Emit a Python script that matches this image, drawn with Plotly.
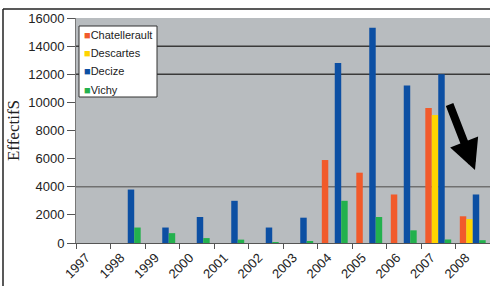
import plotly.graph_objects as go

years = ["1997", "1998", "1999", "2000", "2001", "2002", "2003", "2004", "2005", "2006", "2007", "2008"]
chatellerault = [None, None, None, None, None, None, None, 5900, 5000, 3450, 9600, 1900]
descartes = [None, None, None, None, None, None, None, None, None, None, 9100, 1700]
decize = [None, 3800, 1100, 1850, 3000, 1100, 1800, 12800, 15300, 11200, 12000, 3450]
vichy = [None, 1100, 700, 350, 240, 50, 120, 3000, 1850, 900, 250, 200]
series_names = ["Chatellerault", "Descartes", "Decize", "Vichy"]
colors = ["#f15a2b", "#ffd400", "#0c4fa3", "#23b14d"]
y_ticks = [0, 2000, 4000, 6000, 8000, 10000, 12000, 14000, 16000]
grid_values = [4000, 12000, 14000]

W, H = 490, 286
L, R, T, B = 76, 0, 18, 43
PW, PH = W - L - R, H - T - B


def px(x):
    return (x - L) / PW


def py(y):
    return (H - B - y) / PH


fig = go.Figure()
for name, vals, col in zip(series_names, [chatellerault, descartes, decize, vichy], colors):
    fig.add_trace(go.Bar(x=years, y=vals, name=name, marker=dict(color=col, line=dict(width=0)),
                         showlegend=False))

for g in grid_values:
    fig.add_shape(type="line", xref="paper", yref="y", x0=0, x1=1, y0=g, y1=g,
                  line=dict(color="#3a3a3a" if g > 4000 else "#707070", width=1.5), layer="below")

# outer frame
fig.add_shape(type="line", xref="paper", yref="paper", x0=px(3), x1=px(492), y0=py(9), y1=py(9),
              line=dict(color="#222", width=1.5))
fig.add_shape(type="line", xref="paper", yref="paper", x0=px(3), x1=px(3), y0=py(9), y1=py(290),
              line=dict(color="#222", width=1.5))

# legend box
fig.add_shape(type="rect", xref="paper", yref="paper", x0=px(79), x1=px(157), y0=py(26), y1=py(97),
              fillcolor="white", line=dict(color="#333", width=1))
for i, (name, col) in enumerate(zip(series_names, colors)):
    fig.add_annotation(xref="paper", yref="paper", x=px(82), y=py(35 + 18.2 * i), xanchor="left",
                       yanchor="middle", showarrow=False,
                       text=f"<span style='color:{col}'>■</span>{name}",
                       font=dict(size=11, color="#222", family="Liberation Sans, Arial"))

fig.add_annotation(x=px(475), y=py(170), xref="paper", yref="paper", ax=-26, ay=-67, showarrow=True,
                   arrowhead=2, arrowsize=0.75, arrowwidth=8, arrowcolor="black", text="")

fig.update_layout(
    width=W, height=H,
    margin=dict(l=L, r=R, t=T, b=B),
    paper_bgcolor="white", plot_bgcolor="#b8bcbf",
    barmode="group", bargap=0.25, bargroupgap=0,
    showlegend=False,
    font=dict(family="Liberation Sans, Arial", size=12, color="#222"),
    xaxis=dict(type="category", range=[-0.5, 11.5], tickangle=-45, tickson="boundaries",
               ticks="outside", ticklen=5, tickcolor="#555", showline=True, linecolor="#555",
               linewidth=1, showgrid=False, tickfont=dict(size=13), automargin=False,
               ticklabelshift=-7, ticklabelstandoff=1),
    yaxis=dict(range=[0, 16000], tickvals=y_ticks, tickformat="d", ticks="outside", ticklen=8,
               tickcolor="#555", showline=True, linecolor="#777", linewidth=1, showgrid=False,
               zeroline=False, tickfont=dict(size=13), automargin=False,
               title=dict(text="EffectifS", standoff=4,
                          font=dict(family="Liberation Serif, Times New Roman", size=17, color="#222"))),
)
fig.write_html("out.html", config={"displayModeBar": False},
               post_script="document.body.style.margin='0';document.body.style.overflow='hidden';")
